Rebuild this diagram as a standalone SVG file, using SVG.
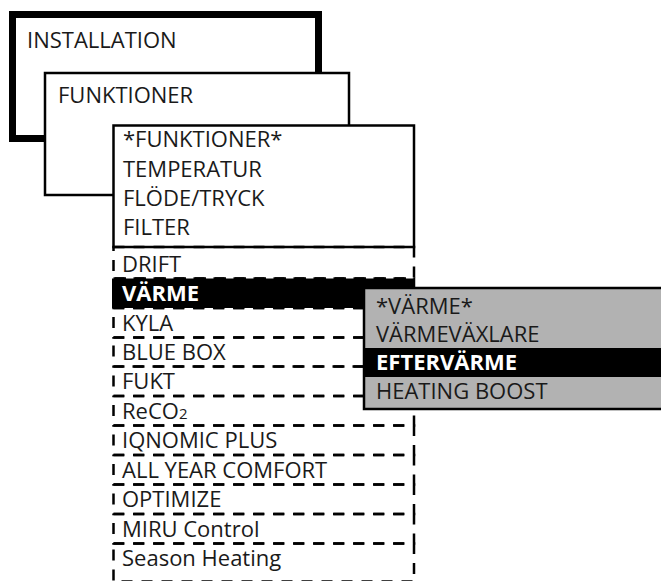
<svg xmlns="http://www.w3.org/2000/svg" width="661" height="581" viewBox="0 0 661 581">
<style>
  text { font-family: "Open Sans", "DejaVu Sans", sans-serif; font-size: 22px; fill: #1a1a1a; }
  .b { font-weight: bold; fill: #ffffff; }
  .box { fill: #ffffff; stroke: #000; stroke-width: 2.5; }
  .row { fill: none; stroke: #000; stroke-width: 2.5; stroke-dasharray: 11 9; }
  .bar { fill: #000; }
</style>
<rect width="661" height="581" fill="#fff"/>
<g id="installation">
  <rect x="12.5" y="14.5" width="306" height="124" fill="#fff" stroke="#000" stroke-width="7"/>
  <text x="27" y="48">INSTALLATION</text>
</g>
<g id="funktioner">
  <rect class="box" x="45" y="73" width="304" height="122"/>
  <text x="58" y="103">FUNKTIONER</text>
</g>
<g id="funktioner-menu">
  <rect class="box" x="113.5" y="125.5" width="300.5" height="121.5"/>
  <text x="123" y="147">*FUNKTIONER*</text>
  <text x="123" y="177">TEMPERATUR</text>
  <text x="123" y="206">FLÖDE/TRYCK</text>
  <text x="123" y="235">FILTER</text>
</g>
<g id="list">
  <g id="drift"><rect class="row" x="113.5" y="247" width="300.5" height="31.5"/><text x="122" y="271.5">DRIFT</text></g>
  <g id="varme"><rect class="bar" x="112" y="278.5" width="303" height="29.5"/><rect class="row" x="113.5" y="278.5" width="300.5" height="29.5"/><text class="b" x="122" y="301">VÄRME</text></g>
  <g id="kyla"><rect class="row" x="113.5" y="308" width="300.5" height="29.5"/><text x="122" y="330.5">KYLA</text></g>
  <g id="bluebox"><rect class="row" x="113.5" y="337.5" width="300.5" height="29"/><text x="122" y="359.5">BLUE BOX</text></g>
  <g id="fukt"><rect class="row" x="113.5" y="366.5" width="300.5" height="29.5"/><text x="122" y="389">FUKT</text></g>
  <g id="reco2"><rect class="row" x="113.5" y="396" width="300.5" height="29.5"/><text x="122" y="418.5">ReCO<tspan font-size="15">2</tspan></text></g>
  <g id="iqnomic"><rect class="row" x="113.5" y="425.5" width="300.5" height="29.5"/><text x="122" y="448">IQNOMIC PLUS</text></g>
  <g id="allyear"><rect class="row" x="113.5" y="455" width="300.5" height="29.5"/><text x="122" y="477.5">ALL YEAR COMFORT</text></g>
  <g id="optimize"><rect class="row" x="113.5" y="484.5" width="300.5" height="29.5"/><text x="122" y="507">OPTIMIZE</text></g>
  <g id="miru"><rect class="row" x="113.5" y="514" width="300.5" height="29.5"/><text x="122" y="536.5">MIRU Control</text></g>
  <g id="season"><rect class="row" x="113.5" y="543.5" width="300.5" height="38"/><text x="122" y="566">Season Heating</text></g>
</g>
<g id="varme-menu">
  <rect x="364" y="288" width="310" height="121" fill="#b2b2b2" stroke="#000" stroke-width="2.5"/>
  <text x="376" y="314">*VÄRME*</text>
  <text x="376" y="342">VÄRMEVÄXLARE</text>
  <rect class="bar" x="365" y="348" width="300" height="29"/>
  <text class="b" x="376" y="370">EFTERVÄRME</text>
  <text x="376" y="399">HEATING BOOST</text>
</g>
<g id="connectors"></g>
</svg>
